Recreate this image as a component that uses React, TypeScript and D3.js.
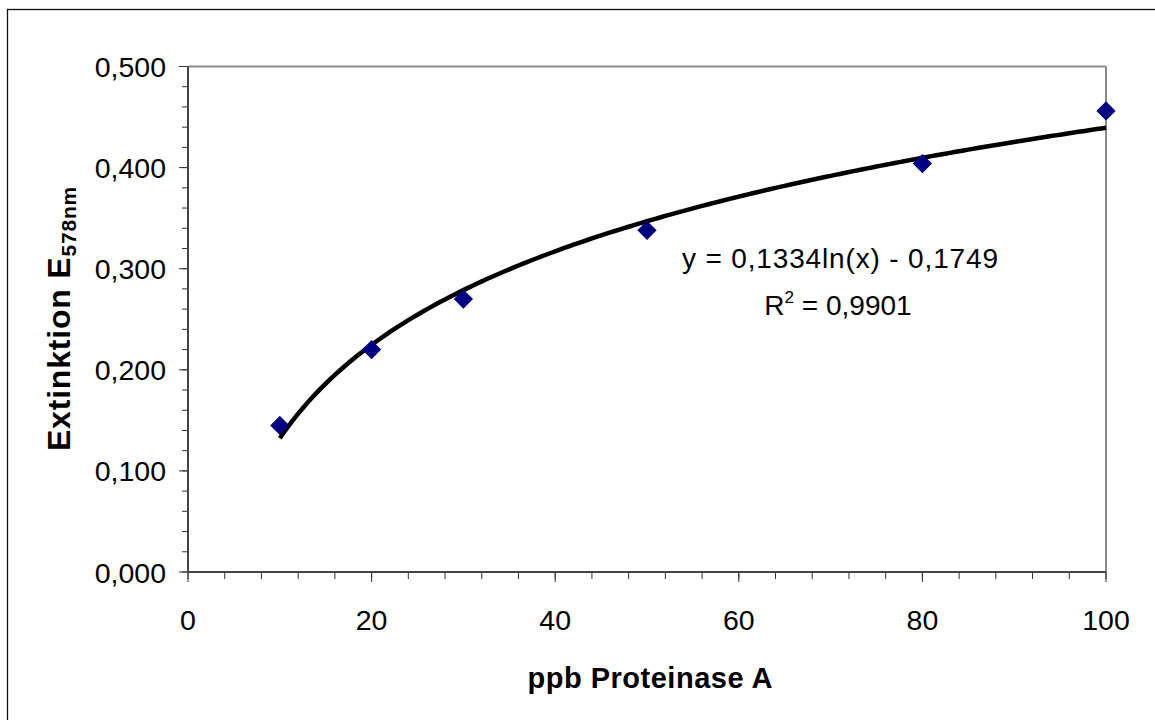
import React from "react";
import * as d3 from "d3";

const concentrations = [10, 20, 30, 50, 80, 100];
const extinction = [0.145, 0.22, 0.27, 0.338, 0.404, 0.456];
const xTicks = [0, 20, 40, 60, 80, 100];
const yTicks = [0, 0.1, 0.2, 0.3, 0.4, 0.5];
const fitA = 0.1334;
const fitB = -0.1749;
const fitR2 = 0.9901;
const xTitle = "ppb Proteinase A";
const yTitleMain = "Extinktion E";
const yTitleSub = "578nm";

const fmt = (v: number, d: number) => v.toFixed(d).replace(".", ",");

export default function App() {
  const W = 1155, H = 720;
  const L = 188, R = 1106, T = 66.5, B = 572;
  const x = d3.scaleLinear().domain([0, 100]).range([L, R]);
  const y = d3.scaleLinear().domain([0, 0.5]).range([B, T]);
  const font = "'Liberation Sans', Arial, Helvetica, sans-serif";

  const xMinor = d3.range(0, 100.001, 4);
  const yMinor = d3.range(0, 0.5001, 0.02);

  const fitPts = d3.range(10, 100.001, 0.5).map((v) => [v, fitA * Math.log(v) + fitB] as [number, number]);
  const line = d3.line<[number, number]>().x((d) => x(d[0])).y((d) => y(d[1])).curve(d3.curveLinear);
  const marker = d3.symbol(d3.symbolSquare, 185)() as string;

  const eqText = `y = ${fmt(fitA, 4)}ln(x) - ${fmt(-fitB, 4)}`;

  return (
    <svg width={W} height={H} style={{ position: "absolute", left: 0, top: 0, background: "#fff" }} fontFamily={font}>
      <rect x={0} y={0} width={W} height={H} fill="#fff" />
      <rect x={7.5} y={9.5} width={W + 20} height={H + 20} fill="none" stroke="#111" strokeWidth={1.3} />
      {/* plot frame */}
      <line x1={L} x2={R} y1={T} y2={T} stroke="#8a8a8a" strokeWidth={2} />
      <line x1={R} x2={R} y1={T} y2={B} stroke="#8a8a8a" strokeWidth={2} />
      {/* minor ticks */}
      {yMinor.map((v, i) => (
        <line key={"ym" + i} x1={L - 6} x2={L} y1={y(v)} y2={y(v)} stroke="#333" strokeWidth={1} />
      ))}
      {yTicks.map((v, i) => (
        <line key={"yM" + i} x1={L - 9} x2={L} y1={y(v)} y2={y(v)} stroke="#333" strokeWidth={1} />
      ))}
      {xMinor.map((v, i) => (
        <line key={"xm" + i} x1={x(v)} x2={x(v)} y1={B} y2={B + 7} stroke="#333" strokeWidth={1} />
      ))}
      {xTicks.map((v, i) => (
        <line key={"xM" + i} x1={x(v)} x2={x(v)} y1={B} y2={B + 10} stroke="#333" strokeWidth={1} />
      ))}
      <line x1={L} x2={L} y1={T} y2={B + 1} stroke="#444" strokeWidth={2} />
      <line x1={L - 1} x2={R} y1={B} y2={B} stroke="#444" strokeWidth={2} />
      {/* tick labels */}
      {yTicks.map((v, i) => (
        <text key={"yl" + i} x={166} y={y(v) + 10.5} textAnchor="end" fontSize={28.5} fill="#000">
          {fmt(v, 3)}
        </text>
      ))}
      {xTicks.map((v, i) => (
        <text key={"xl" + i} x={x(v)} y={630} textAnchor="middle" fontSize={28.5} fill="#000">
          {v}
        </text>
      ))}
      {/* titles */}
      <text x={650} y={688} textAnchor="middle" fontSize={29} fontWeight="bold" textLength={245} lengthAdjust="spacing">
        {xTitle}
      </text>
      <text transform={`translate(70, 318.5) rotate(-90)`} textAnchor="middle" fontWeight="bold" fontSize={32} letterSpacing={0.8}>
        {yTitleMain}
        <tspan fontSize={21} dy={6}>{yTitleSub}</tspan>
      </text>
      {/* fit */}
      <path d={line(fitPts) as string} fill="none" stroke="#000" strokeWidth={4.5} />
      {/* points */}
      {concentrations.map((c, i) => (
        <path key={"p" + i} d={marker} transform={`translate(${x(c)},${y(extinction[i])}) rotate(45)`} fill="#000080" />
      ))}
      {/* equation */}
      <text x={840} y={268} textAnchor="middle" fontSize={28} textLength={316} lengthAdjust="spacing">
        {eqText}
      </text>
      <text x={838} y={315} textAnchor="middle" fontSize={28}>
        R<tspan fontSize={17} dy={-12}>2</tspan>
        <tspan dy={12}>{` = ${fmt(fitR2, 4)}`}</tspan>
      </text>
    </svg>
  );
}
